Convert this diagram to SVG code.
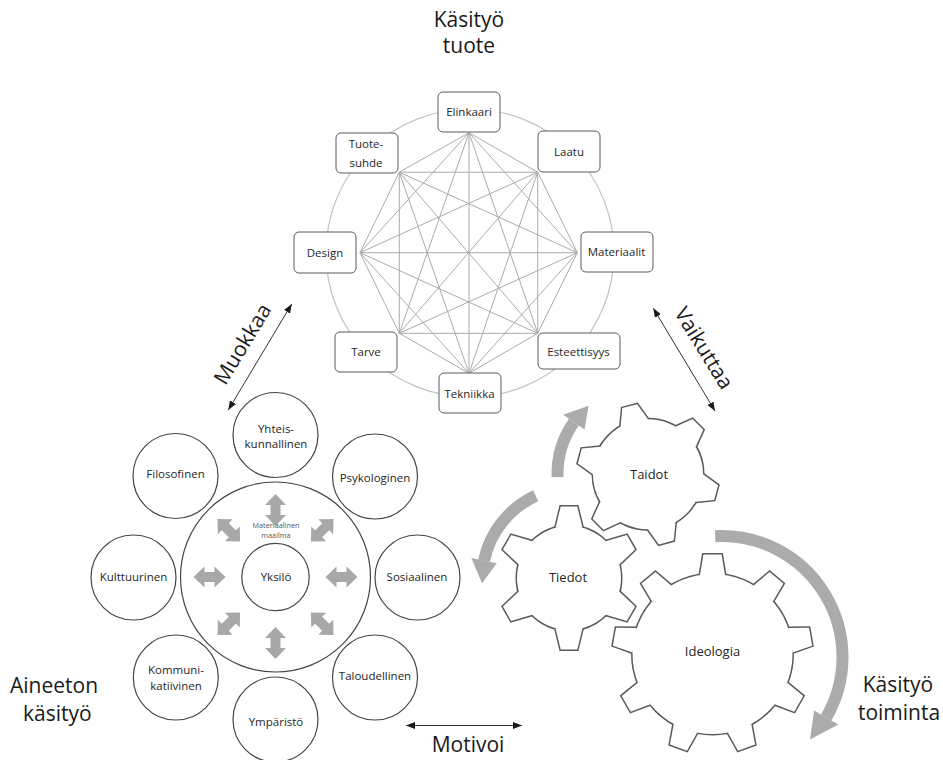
<svg xmlns="http://www.w3.org/2000/svg" xmlns:xlink="http://www.w3.org/1999/xlink" width="943" height="760" viewBox="0 0 943 760">
<style>
text{font-family:"Open Sans","Liberation Sans",sans-serif;fill:#262626}
.big{font-size:21px;fill:#1a1a1a}
.sm{font-size:11.5px;text-anchor:middle}
.gt{font-size:13px;text-anchor:middle}
.tiny{font-size:7.3px;text-anchor:middle;fill:#555}
.box{fill:#fff;stroke:#5a5a5a;stroke-width:1;rx:5px;ry:5px}
.circ{fill:#fff;stroke:#454545;stroke-width:1.2}
.ring{fill:none;stroke:#c3c3c3;stroke-width:1.2}
.web{fill:none;stroke:#ababab;stroke-width:1}
.conn{fill:none;stroke:#333;stroke-width:1}
.garc{fill:none;stroke:#ababab;stroke-width:12}
.ghead{fill:#ababab}
.dbl{fill:#a8a8a8}
.gs{fill:#fff;stroke:#5a5a5a;stroke-width:3;stroke-linejoin:miter}
.gf{fill:#fff;stroke:none}
</style>
<defs>
<marker id="ah" viewBox="0 0 9 7" refX="9" refY="3.5" markerWidth="9" markerHeight="7" markerUnits="userSpaceOnUse" orient="auto-start-reverse">
<path d="M0,0 L9,3.5 L0,7 z" fill="#1a1a1a"/>
</marker>
<polygon id="dblArrow" points="-16,0 -5,-10.5 -5,-5 5,-5 5,-10.5 16,0 5,10.5 5,5 -5,5 -5,10.5"/>
<polygon id="toothTa" points="53.13,-14.24 70.58,-7.67 70.58,7.67 53.13,14.24"/>
<polygon id="toothTi" points="50.23,-13.46 71.52,-8.28 71.52,8.28 50.23,13.46"/>
<polygon id="toothId" points="79.02,-12.51 99.59,-9.06 99.59,9.06 79.02,12.51"/>
<g id="shapeTa">
<circle r="55"/>
<use href="#toothTa" transform="rotate(15)"/><use href="#toothTa" transform="rotate(75)"/><use href="#toothTa" transform="rotate(135)"/>
<use href="#toothTa" transform="rotate(195)"/><use href="#toothTa" transform="rotate(255)"/><use href="#toothTa" transform="rotate(315)"/>
</g>
<g id="shapeTi">
<circle r="52"/>
<use href="#toothTi" transform="rotate(-90)"/><use href="#toothTi" transform="rotate(-30)"/><use href="#toothTi" transform="rotate(30)"/>
<use href="#toothTi" transform="rotate(90)"/><use href="#toothTi" transform="rotate(150)"/><use href="#toothTi" transform="rotate(210)"/>
</g>
<g id="shapeId">
<circle r="80"/>
<use href="#toothId" transform="rotate(-90)"/><use href="#toothId" transform="rotate(-50)"/><use href="#toothId" transform="rotate(-10)"/>
<use href="#toothId" transform="rotate(30)"/><use href="#toothId" transform="rotate(70)"/><use href="#toothId" transform="rotate(110)"/>
<use href="#toothId" transform="rotate(150)"/><use href="#toothId" transform="rotate(190)"/><use href="#toothId" transform="rotate(230)"/>
</g>
</defs>

<rect width="943" height="760" fill="#fff"/>

<!-- Labels -->
<g id="label-kasityo-tuote">
<text class="big" x="469" y="27" text-anchor="middle">Käsityö</text>
<text class="big" x="469" y="53" text-anchor="middle">tuote</text>
</g>
<g id="label-aineeton">
<text class="big" x="10" y="693">Aineeton</text>
<text class="big" x="23" y="721">käsityö</text>
</g>
<g id="label-kasityo-toiminta">
<text class="big" x="898" y="692" text-anchor="middle">Käsityö</text>
<text class="big" x="899" y="720" text-anchor="middle">toiminta</text>
</g>

<!-- Product octagon -->
<circle class="ring" cx="470" cy="253" r="144"/>
<g id="connectors">
<path class="web" d="M469 132.7L537.7 172.2M469 132.7L577.3 252.7M469 132.7L537.7 333.3M469 132.7L469 373.3M469 132.7L399.3 333.3M469 132.7L360 252.7M469 132.7L399.3 172.2M537.7 172.2L577.3 252.7M537.7 172.2L537.7 333.3M537.7 172.2L469 373.3M537.7 172.2L399.3 333.3M537.7 172.2L360 252.7M537.7 172.2L399.3 172.2M577.3 252.7L537.7 333.3M577.3 252.7L469 373.3M577.3 252.7L399.3 333.3M577.3 252.7L360 252.7M577.3 252.7L399.3 172.2M537.7 333.3L469 373.3M537.7 333.3L399.3 333.3M537.7 333.3L360 252.7M537.7 333.3L399.3 172.2M469 373.3L399.3 333.3M469 373.3L360 252.7M469 373.3L399.3 172.2M399.3 333.3L360 252.7M399.3 333.3L399.3 172.2M360 252.7L399.3 172.2"/>
<line class="conn" x1="228.3" y1="410" x2="291.7" y2="304" marker-start="url(#ah)" marker-end="url(#ah)"/>
<line class="conn" x1="653.3" y1="308.3" x2="715" y2="411" marker-start="url(#ah)" marker-end="url(#ah)"/>
<line class="conn" x1="406" y1="725.5" x2="522" y2="725.5" marker-start="url(#ah)" marker-end="url(#ah)"/>
<text class="big" transform="translate(242.5,344) rotate(-58.9)" text-anchor="middle" dy="0.35em">Muokkaa</text>
<text class="big" transform="translate(704,348) rotate(58.3)" text-anchor="middle" dy="0.35em">Vaikuttaa</text>
<text class="big" x="468" y="752" text-anchor="middle">Motivoi</text>
<!-- gray cycle arrows -->
<path class="garc" d="M557.55 477.16A90.5 90.5 0 0 1 573.87 422.09"/>
<polygon class="ghead" points="584.52,429.55 588.63,405.7 563.22,414.63"/>
<path class="garc" d="M535.7 495.71A93 93 0 0 0 484.03 560.66"/>
<polygon class="ghead" points="496.75,563.37 482.06,583.25 471.32,557.96"/>
<path class="garc" d="M715.17 536.17A121 121 0 0 1 826.29 717.5"/>
<polygon class="ghead" points="814.16,710.5 809.99,739.52 838.41,724.5"/>
</g>

<g id="node-elinkaari"><rect class="box" x="438" y="92" width="62" height="40"/><text class="sm" x="469" y="116">Elinkaari</text></g>
<g id="node-laatu"><rect class="box" x="538" y="131" width="62" height="41"/><text class="sm" x="569" y="155.5">Laatu</text></g>
<g id="node-tuotesuhde"><rect class="box" x="336" y="133" width="62" height="40"/><text class="sm" x="366" y="147.5">Tuote-</text><text class="sm" x="366" y="166.5">suhde</text></g>
<g id="node-design"><rect class="box" x="294" y="232" width="62" height="41"/><text class="sm" x="325" y="256.5">Design</text></g>
<g id="node-materiaalit"><rect class="box" x="581" y="232" width="72" height="40"/><text class="sm" x="616.5" y="256">Materiaalit</text></g>
<g id="node-tarve"><rect class="box" x="335" y="332" width="62" height="40"/><text class="sm" x="366" y="356">Tarve</text></g>
<g id="node-esteettisyys"><rect class="box" x="538" y="333" width="82" height="36"/><text class="sm" x="578.5" y="355.5">Esteettisyys</text></g>
<g id="node-tekniikka"><rect class="box" x="439" y="373" width="62" height="40"/><text class="sm" x="469.5" y="397.5">Tekniikka</text></g>

<!-- Left cluster -->
<g id="node-materiaalinen-maailma">
<circle class="circ" cx="275.5" cy="577" r="95"/>
<use href="#dblArrow" class="dbl" transform="translate(341.5,577)"/>
<use href="#dblArrow" class="dbl" transform="translate(322.2,623.7) rotate(45)"/>
<use href="#dblArrow" class="dbl" transform="translate(275.5,643) rotate(90)"/>
<use href="#dblArrow" class="dbl" transform="translate(228.8,623.7) rotate(135)"/>
<use href="#dblArrow" class="dbl" transform="translate(209.5,577)"/>
<use href="#dblArrow" class="dbl" transform="translate(228.8,530.3) rotate(45)"/>
<use href="#dblArrow" class="dbl" transform="translate(275.5,510) rotate(90)"/>
<use href="#dblArrow" class="dbl" transform="translate(322.2,530.3) rotate(135)"/>
<text class="tiny" x="276" y="527.5">Materiaalinen</text>
<text class="tiny" x="276" y="538">maailma</text>
</g>
<g id="node-yksilo"><circle class="circ" cx="275.5" cy="577" r="33.7"/><text class="sm" x="276" y="581">Yksilö</text></g>
<g id="node-yhteiskunnallinen"><circle class="circ" cx="275.5" cy="435" r="42.5"/><text class="sm" x="276" y="432.5">Yhteis-</text><text class="sm" x="276" y="447.5">kunnallinen</text></g>
<g id="node-psykologinen"><circle class="circ" cx="375" cy="476.5" r="42.5"/><text class="sm" x="375" y="481.5">Psykologinen</text></g>
<g id="node-sosiaalinen"><circle class="circ" cx="417.5" cy="577.5" r="42.5"/><text class="sm" x="417" y="581">Sosiaalinen</text></g>
<g id="node-taloudellinen"><circle class="circ" cx="375" cy="677.5" r="42.5"/><text class="sm" x="375" y="679.5">Taloudellinen</text></g>
<g id="node-ymparisto"><circle class="circ" cx="275.5" cy="719.5" r="42.5"/><text class="sm" x="276" y="726">Ympäristö</text></g>
<g id="node-kommunikatiivinen"><circle class="circ" cx="175.8" cy="677.5" r="42.5"/><text class="sm" x="176" y="674">Kommuni-</text><text class="sm" x="176" y="690">katiivinen</text></g>
<g id="node-kulttuurinen"><circle class="circ" cx="133.5" cy="577.5" r="42.5"/><text class="sm" x="133.5" y="581">Kulttuurinen</text></g>
<g id="node-filosofinen"><circle class="circ" cx="175.5" cy="476" r="42.5"/><text class="sm" x="175.5" y="477.5">Filosofinen</text></g>

<!-- Gears -->
<g id="node-ideologia" transform="translate(712.5,654)">
<use href="#shapeId" class="gs"/><use href="#shapeId" class="gf"/>
<text class="gt" x="0" y="1.5">Ideologia</text>
</g>
<g id="node-tiedot" transform="translate(569,578)">
<use href="#shapeTi" class="gs"/><use href="#shapeTi" class="gf"/>
<text class="gt" x="-1" y="3.5">Tiedot</text>
</g>
<g id="node-taidot" transform="translate(648,474.3)">
<use href="#shapeTa" class="gs"/><use href="#shapeTa" class="gf"/>
<text class="gt" x="1" y="5">Taidot</text>
</g>
</svg>
